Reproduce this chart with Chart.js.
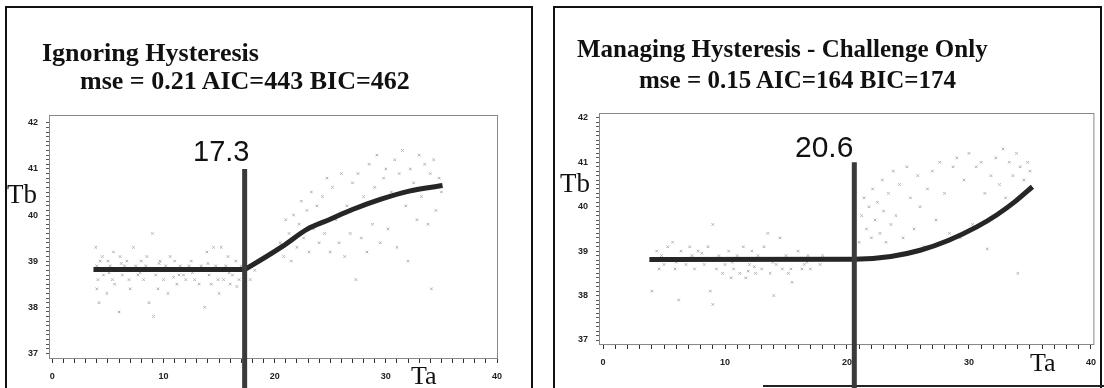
<!DOCTYPE html>
<html>
<head>
<meta charset="utf-8">
<script src="https://cdn.jsdelivr.net/npm/chart.js@4.4.1/dist/chart.umd.min.js"></script>
<style>
    body { margin: 0; width: 1104px; height: 388px; overflow: hidden; position: relative; background: #fff; font-family: "Liberation Serif", "Times New Roman", serif; color: #111; }
    .panel { position: absolute; border: 2px solid #111; border-bottom: none; box-sizing: border-box; }
    .txt { position: absolute; white-space: nowrap; line-height: 1; }
    .title { font-weight: bold; }
    .brk { font-family: "Liberation Sans", Arial, sans-serif; }
    canvas { position: absolute; top: 0; }
</style>
</head>
<body>
<div class="panel" style="left:5px;top:6px;width:528px;height:400px;"></div>
<div class="panel" style="left:553px;top:6px;width:549px;height:400px;"></div>
<div style="position:absolute;left:763px;top:385px;width:341px;height:2px;background:#222;"></div>

<div style="position:absolute;left:0;top:0;width:540px;height:388px;"><canvas id="leftChart"></canvas></div>
<div style="position:absolute;left:552px;top:0;width:552px;height:388px;"><canvas id="rightChart"></canvas></div>

<div class="txt title" style="left:42px;top:40px;font-size:26px;">Ignoring Hysteresis</div>
<div class="txt title" style="left:80px;top:68px;font-size:26px;">mse = 0.21 AIC=443 BIC=462</div>
<div class="txt title" style="left:577px;top:36px;font-size:25px;">Managing Hysteresis - Challenge Only</div>
<div class="txt title" style="left:639px;top:67px;font-size:25px;">mse = 0.15 AIC=164 BIC=174</div>

<div class="txt brk" style="left:193px;top:137px;font-size:29px;">17.3</div>
<div class="txt brk" style="left:795px;top:132px;font-size:30px;">20.6</div>

<div class="txt" style="left:7px;top:181px;font-size:27px;">Tb</div>
<div class="txt" style="left:560px;top:170px;font-size:27px;">Tb</div>
<div class="txt" style="left:411px;top:363px;font-size:26px;">Ta</div>
<div class="txt" style="left:1030px;top:350px;font-size:26px;">Ta</div>

<script>
// axis ticks
const taTicks = [0, 10, 20, 30, 40];
const tbTicks = [37, 38, 39, 40, 41, 42];

// breakpoints
const leftBreak = 17.3;
const rightBreak = 20.6;

// fitted curves [Ta, Tb]
const leftFit = [[3.7, 38.82], [17.3, 38.82], [17.6, 38.86], [20.7, 39.32], [22.9, 39.69], [24.9, 39.9],
    [27.0, 40.12], [29.5, 40.34], [32.1, 40.52], [35.1, 40.64]];
const rightFit = [[3.8, 38.81], [20.6, 38.82], [23.6, 38.88], [26.0, 39.02], [28.3, 39.24], [30.6, 39.54],
    [32.3, 39.82], [33.8, 40.12], [35.2, 40.45]];

// observed points [Ta, Tb]
const leftObs = [
    [3.9, 39.3], [4.0, 38.9], [4.1, 38.6], [4.0, 38.4], [4.2, 38.1], [4.4, 38.8], [4.5, 39.1], [4.6, 38.7], [4.9, 38.3],
    [5.0, 39.0], [5.2, 38.9], [5.4, 38.6], [5.5, 39.2], [5.6, 38.5], [5.8, 38.8], [6.0, 37.9], [6.1, 39.1], [6.3, 38.7],
    [6.5, 38.9], [6.7, 39.0], [6.9, 38.6], [7.0, 38.4], [7.2, 38.8], [7.3, 39.3], [7.5, 38.9], [7.7, 38.7], [8.0, 39.0],
    [8.2, 38.6], [8.4, 38.9], [8.5, 39.1], [8.7, 38.1], [8.9, 38.8], [9.0, 39.6], [9.1, 37.8], [9.3, 38.7], [9.5, 38.4],
    [9.7, 39.0], [9.9, 38.8], [10.0, 38.6], [10.2, 38.9], [10.4, 38.3], [10.6, 39.1], [10.8, 38.8], [11.0, 39.0],
    [11.2, 38.5], [11.4, 38.7], [11.5, 38.9], [11.8, 38.7], [12.0, 38.6], [12.3, 38.9], [12.5, 39.0], [12.8, 38.6],
    [13.0, 38.8], [13.2, 38.5], [13.4, 38.9], [13.7, 38.0], [13.9, 39.2], [14.1, 38.7], [14.3, 38.5], [14.5, 39.3],
    [14.7, 38.9], [14.9, 38.6], [15.0, 38.3], [15.2, 39.3], [15.4, 38.6], [15.6, 38.9], [15.8, 39.1], [16.0, 38.5],
    [16.2, 38.7], [16.5, 39.0], [16.8, 38.6], [17.0, 38.9], [17.8, 38.6], [18.2, 38.8],
    [4.3, 39.0], [5.1, 38.75], [6.2, 38.95], [7.9, 38.75], [9.6, 38.95], [10.9, 38.65], [12.6, 38.75], [14.0, 38.95],
    [15.9, 38.75], [16.6, 38.45],
    [20.5, 39.4], [20.8, 39.1], [21.0, 39.9], [21.3, 39.6], [21.5, 39.0], [21.7, 40.0], [22.0, 39.3], [22.2, 39.8],
    [22.4, 40.3], [22.6, 39.5], [22.9, 40.1], [23.1, 39.2], [23.3, 40.5], [23.5, 39.7], [23.8, 40.2], [24.0, 39.4],
    [24.3, 40.4], [24.5, 39.6], [24.7, 40.8], [25.0, 39.2], [25.2, 40.6], [25.5, 39.9], [25.8, 39.4], [26.0, 40.9],
    [26.3, 39.1], [26.5, 40.2], [26.8, 39.6], [27.0, 40.7], [27.3, 38.6], [27.5, 40.9], [27.8, 39.5], [28.0, 40.4],
    [28.3, 39.2], [28.5, 41.1], [28.8, 39.8], [29.0, 40.6], [29.2, 41.3], [29.5, 39.4], [29.8, 40.8], [30.0, 41.0],
    [30.2, 39.7], [30.5, 40.5], [30.8, 41.2], [31.0, 39.3], [31.2, 40.9], [31.5, 41.4], [31.8, 40.2], [32.0, 39.0],
    [32.2, 41.0], [32.5, 40.7], [32.8, 39.9], [33.0, 41.3], [33.2, 40.4], [33.5, 41.1], [33.8, 39.8], [34.0, 40.9],
    [34.1, 38.4], [34.3, 41.2], [34.5, 40.1], [34.8, 40.8], [35.0, 40.5]
];
const rightObs = [
    [4.0, 38.1], [4.2, 38.8], [4.4, 39.0], [4.6, 38.6], [4.8, 38.9], [5.0, 38.7], [5.3, 39.1], [5.5, 38.8], [5.7, 39.2],
    [5.9, 38.6], [6.2, 37.9], [6.4, 39.0], [6.6, 38.8], [6.8, 38.7], [7.1, 39.1], [7.3, 38.9], [7.5, 38.6], [7.8, 39.0],
    [8.0, 38.8], [8.3, 38.7], [8.6, 39.1], [8.8, 38.1], [9.0, 37.8], [9.0, 39.6], [9.3, 38.6], [9.5, 38.9], [9.8, 38.5],
    [10.0, 38.7], [10.3, 39.0], [10.5, 38.4], [10.7, 38.6], [11.0, 38.9], [11.2, 38.5], [11.5, 39.1], [11.7, 38.4],
    [12.0, 38.7], [12.2, 39.0], [12.5, 38.5], [12.7, 38.9], [13.0, 38.6], [13.2, 39.1], [13.5, 39.4], [13.7, 38.5],
    [14.0, 38.0], [14.2, 38.7], [14.5, 39.3], [14.7, 38.6], [15.0, 38.9], [15.2, 38.5], [15.5, 38.3], [15.7, 38.8],
    [16.0, 39.0], [16.3, 38.6], [16.5, 38.7], [16.8, 38.9], [17.0, 38.6], [17.4, 38.8], [17.8, 38.7], [18.0, 38.9],
    [6.0, 38.75], [8.1, 38.95], [10.6, 38.75], [12.4, 38.65], [13.9, 38.75], [15.4, 38.6], [16.7, 38.75], [11.9, 38.55],
    [21.0, 39.2], [21.2, 39.8], [21.4, 40.2], [21.6, 39.5], [21.8, 40.0], [22.0, 39.3], [22.1, 40.4], [22.3, 39.7],
    [22.5, 40.1], [22.7, 39.4], [22.9, 40.6], [23.0, 39.9], [23.2, 39.2], [23.4, 40.3], [23.6, 39.6], [23.8, 40.8],
    [24.0, 39.8], [24.3, 40.5], [24.6, 39.3], [24.9, 40.9], [25.2, 40.2], [25.5, 39.5], [25.8, 40.7], [26.0, 40.0],
    [26.3, 39.1], [26.6, 40.4], [27.0, 40.8], [27.3, 39.7], [27.6, 41.0], [28.0, 40.3], [28.4, 39.4], [28.7, 40.9],
    [29.0, 41.1], [29.3, 39.3], [29.6, 40.6], [30.0, 41.2], [30.3, 39.6], [30.6, 40.9], [31.0, 41.0], [31.3, 40.3],
    [31.5, 39.05], [31.8, 40.7], [32.2, 41.1], [32.5, 40.5], [32.8, 41.3], [33.0, 40.2], [33.3, 41.0], [33.6, 40.7],
    [33.9, 41.2], [34.0, 38.5], [34.2, 40.9], [34.5, 40.6], [34.8, 41.0], [35.0, 40.8]
];

const toXY = pts => pts.map(p => ({ x: p[0], y: p[1] }));

// thin frame round the plot area
const framePlugin = {
    id: 'frame',
    beforeDatasetsDraw(chart) {
        const a = chart.chartArea;
        const ctx = chart.ctx;
        ctx.save();
        ctx.strokeStyle = '#888';
        ctx.lineWidth = 1;
        ctx.strokeRect(a.left + 0.5, a.top + 0.5, a.right - a.left, a.bottom - a.top);
        ctx.restore();
    }
};

function makePanel(id, cfg) {
    const tickFont = { family: 'Liberation Sans', size: 9, weight: 'bold' };
    return new Chart(document.getElementById(id), {
        type: 'scatter',
        data: {
            datasets: [
                {
                    data: [{ x: cfg.brk, y: 41 }, { x: cfg.brk, y: 35.8 }],
                    showLine: true, borderColor: '#3a3a3a', borderWidth: 5, pointRadius: 0,
                    clip: false, order: 0
                },
                {
                    data: toXY(cfg.fit),
                    showLine: true, borderColor: '#262626', borderWidth: 5, pointRadius: 0,
                    cubicInterpolationMode: 'monotone', order: 1
                },
                {
                    data: toXY(cfg.obs),
                    pointStyle: 'crossRot', pointRadius: 1.8, borderWidth: 1,
                    borderColor: '#b0b0b0', backgroundColor: '#b0b0b0', order: 2
                }
            ]
        },
        options: {
            responsive: true,
            maintainAspectRatio: false,
            animation: false,
            events: [],
            layout: { padding: cfg.padding },
            plugins: { legend: { display: false }, tooltip: { enabled: false } },
            scales: {
                x: {
                    min: cfg.xMin, max: cfg.xMax,
                    afterFit: s => { s.height = 30; },
                    afterBuildTicks: s => {
                        const t = [];
                        for (let v = taTicks[0]; v <= taTicks[taTicks.length - 1]; v++) t.push({ value: v });
                        s.ticks = t;
                    },
                    border: { color: '#333', width: 1 },
                    grid: { drawOnChartArea: false, tickLength: 5, color: '#333' },
                    ticks: {
                        autoSkip: false, maxRotation: 0, padding: 8, color: '#222', font: tickFont,
                        callback: v => taTicks.includes(v) ? v : ''
                    }
                },
                y: {
                    min: cfg.yMin, max: cfg.yMax,
                    afterFit: s => { s.width = 40; },
                    afterBuildTicks: s => {
                        const t = [];
                        for (let i = tbTicks[0] * 10; i <= tbTicks[tbTicks.length - 1] * 10; i++) t.push({ value: i / 10 });
                        s.ticks = t;
                    },
                    border: { color: '#333', width: 1 },
                    grid: { drawOnChartArea: false, tickLength: 3, color: '#555' },
                    ticks: {
                        autoSkip: false, padding: 8, color: '#222', font: tickFont,
                        callback: v => {
                            const r = Math.round(v);
                            return Math.abs(v - r) < 1e-6 && tbTicks.includes(r) ? r : '';
                        }
                    }
                }
            }
        },
        plugins: [framePlugin]
    });
}

makePanel('leftChart', {
    brk: leftBreak, fit: leftFit, obs: leftObs,
    xMin: -0.3, xMax: 40, yMin: 36.9, yMax: 42.17,
    padding: { left: 9, right: 43, top: 115, bottom: 0 }
});
makePanel('rightChart', {
    brk: rightBreak, fit: rightFit, obs: rightObs,
    xMin: -0.33, xMax: 40.2, yMin: 36.91, yMax: 42.11,
    padding: { left: 7, right: 8, top: 113, bottom: 14 }
});
</script>
</body>
</html>
